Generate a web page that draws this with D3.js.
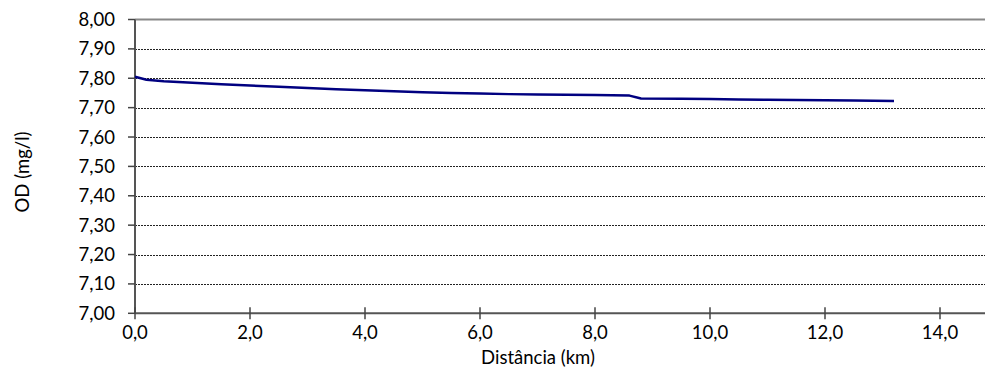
<!DOCTYPE html>
<html><head><meta charset="utf-8">
<script src="https://cdn.jsdelivr.net/npm/d3@7"></script>
<style>html,body{margin:0;padding:0;background:#fff;overflow:hidden}</style>
</head><body>
<svg id="c" width="985" height="371"></svg>
<script>
const distanceKm = [0, 0.2, 0.5, 1.0, 1.5, 2.0, 2.5, 3.0, 3.5, 4.0, 4.5, 5.0, 5.5, 6.0, 6.5, 7.0, 7.5, 8.0, 8.6, 8.8, 9.5, 10.0, 10.5, 11.0, 11.5, 12.0, 12.5, 13.2];
const odValues = [7.805, 7.795, 7.790, 7.785, 7.780, 7.775, 7.771, 7.767, 7.763, 7.759, 7.756, 7.752, 7.750, 7.748, 7.746, 7.745, 7.744, 7.743, 7.741, 7.731, 7.730, 7.729, 7.728, 7.727, 7.726, 7.725, 7.724, 7.723];
const yTicks = [7.0, 7.1, 7.2, 7.3, 7.4, 7.5, 7.6, 7.7, 7.8, 7.9, 8.0];
const xTicks = [0, 2, 4, 6, 8, 10, 12, 14];
const xTitle = "Distância (km)";
const yTitle = "OD (mg/l)";

const W = 985, H = 371;
const mLeft = 135, mTop = 19.5, mBottom = 313.3;
const x = d3.scaleLinear().domain([0, 16]).range([mLeft, mLeft + 16 * 57.5]);
const y = d3.scaleLinear().domain([7, 8]).range([mBottom, mTop]);
const mRight = W;
const fmt = (v, n) => v.toFixed(n).replace(".", ",");
const font = "Lato, 'Open Sans', sans-serif";
const fs = 18.5;

const svg = d3.select("#c");

// gridlines
svg.append("g").selectAll("line").data(yTicks.filter(v => v > 7 && v < 8)).join("line")
  .attr("x1", mLeft).attr("x2", mRight)
  .attr("y1", d => Math.round(y(d)) + 0.5).attr("y2", d => Math.round(y(d)) + 0.5)
  .attr("stroke", "#222").attr("stroke-width", 1).attr("stroke-dasharray", "2,1");

// top border
svg.append("line").attr("x1", mLeft).attr("x2", mRight)
  .attr("y1", y(8)).attr("y2", y(8)).attr("stroke", "#888").attr("stroke-width", 2);

// y axis
svg.append("line").attr("x1", mLeft).attr("x2", mLeft).attr("y1", y(8)).attr("y2", y(7))
  .attr("stroke", "#555").attr("stroke-width", 2);
svg.append("g").selectAll("line").data(yTicks).join("line")
  .attr("x1", mLeft - 7).attr("x2", mLeft)
  .attr("y1", d => y(d)).attr("y2", d => y(d))
  .attr("stroke", "#444").attr("stroke-width", 1.5);
svg.append("g").selectAll("text").data(yTicks).join("text")
  .attr("x", 115).attr("y", d => y(d) + 6.5)
  .attr("text-anchor", "end").attr("font-family", font).attr("font-size", fs).attr("fill", "#000")
  .text(d => fmt(d, 2));

// x axis
svg.append("line").attr("x1", mLeft).attr("x2", mRight).attr("y1", y(7)).attr("y2", y(7))
  .attr("stroke", "#555").attr("stroke-width", 2);
svg.append("g").selectAll("line").data(xTicks).join("line")
  .attr("x1", d => x(d)).attr("x2", d => x(d))
  .attr("y1", y(7) - 6).attr("y2", y(7) + 6)
  .attr("stroke", "#444").attr("stroke-width", 1.5);
svg.append("g").selectAll("text").data(xTicks).join("text")
  .attr("x", d => x(d)).attr("y", 339)
  .attr("text-anchor", "middle").attr("font-family", font).attr("font-size", fs).attr("fill", "#000")
  .text(d => fmt(d, 1));

// titles
svg.append("text").attr("x", 538).attr("y", 364).attr("text-anchor", "middle")
  .attr("font-family", font).attr("font-size", fs).attr("fill", "#000").text(xTitle);
svg.append("text").attr("transform", `translate(29,172) rotate(-90)`).attr("text-anchor", "middle")
  .attr("font-family", font).attr("font-size", fs).attr("fill", "#000").text(yTitle);

// line
const data = distanceKm.map((d, i) => [d, odValues[i]]);
svg.append("path").datum(data)
  .attr("fill", "none").attr("stroke", "#000080").attr("stroke-width", 2.5)
  .attr("stroke-linejoin", "round")
  .attr("d", d3.line().x(d => x(d[0])).y(d => y(d[1])));
</script>
</body></html>
